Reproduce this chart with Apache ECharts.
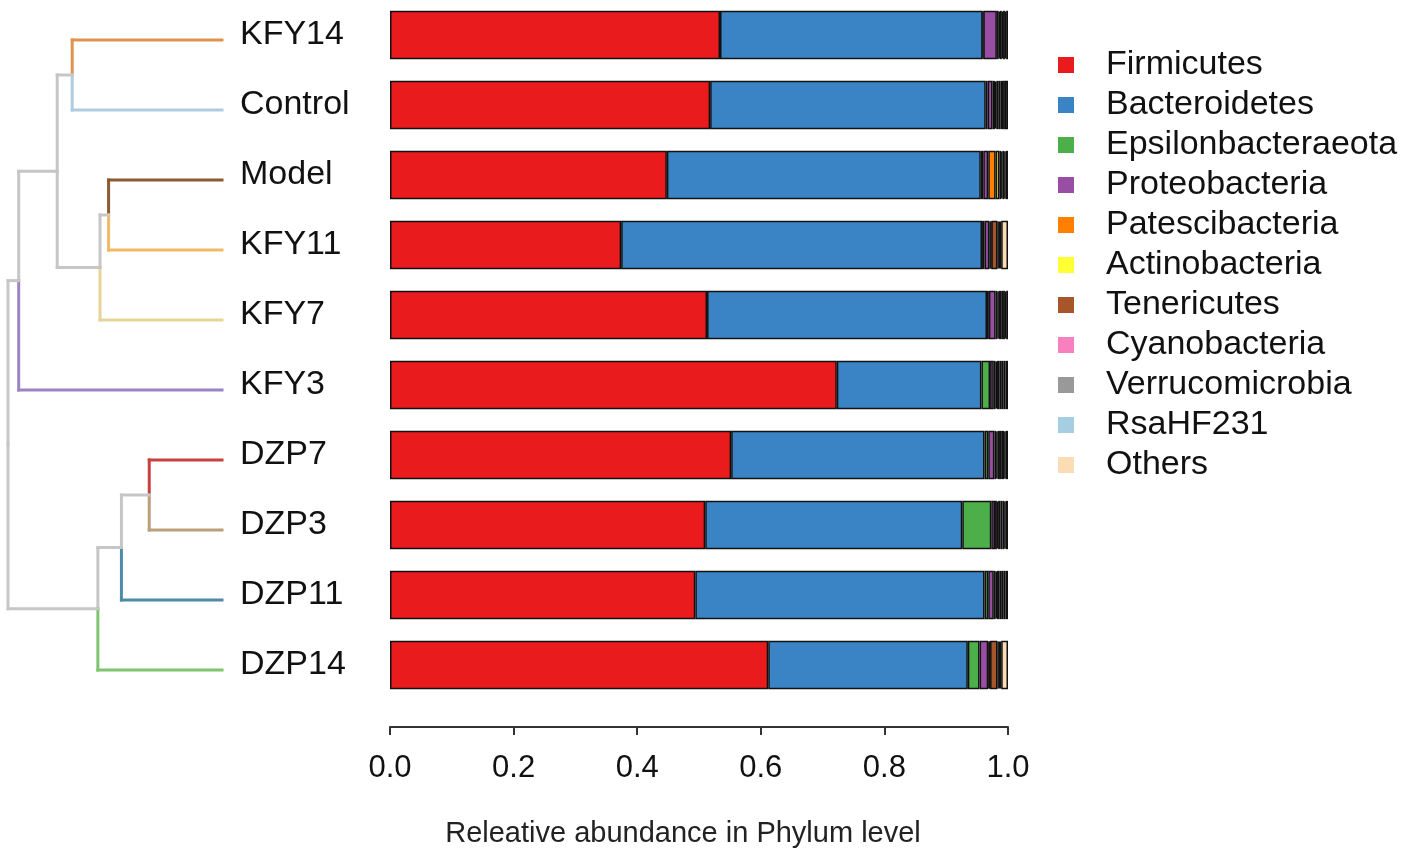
<!DOCTYPE html>
<html>
<head>
<meta charset="utf-8">
<script src="https://cdn.jsdelivr.net/npm/echarts@6/dist/echarts.min.js"></script>
<style>
  html, body { margin: 0; padding: 0; background: #fff; }
  #chart { width: 1418px; height: 859px; }
</style>
</head>
<body>
<div id="chart"></div>
<script>
// samples, top to bottom
const samples = ['KFY14', 'Control', 'Model', 'KFY11', 'KFY7', 'KFY3', 'DZP7', 'DZP3', 'DZP11', 'DZP14'];

const phyla = ['Firmicutes', 'Bacteroidetes', 'Epsilonbacteraeota', 'Proteobacteria', 'Patescibacteria',
  'Actinobacteria', 'Tenericutes', 'Cyanobacteria', 'Verrucomicrobia', 'RsaHF231', 'Others'];
const phylaColors = ['#ea1b1c', '#3a84c5', '#4daf4a', '#984ea3', '#ff7f00',
  '#ffff33', '#a65628', '#f781bf', '#999999', '#a6cee3', '#fbdcb4'];

// relative abundance per phylum, same order as samples
const firmicutes      = [0.534, 0.518, 0.448, 0.374, 0.513, 0.723, 0.552, 0.510, 0.494, 0.612];
const bacteroidetes   = [0.425, 0.446, 0.508, 0.584, 0.453, 0.234, 0.410, 0.416, 0.468, 0.323];
const epsilon         = [0.001, 0.003, 0.004, 0.004, 0.003, 0.014, 0.006, 0.047, 0.006, 0.019];
const proteobacteria  = [0.022, 0.008, 0.008, 0.008, 0.011, 0.006, 0.010, 0.006, 0.009, 0.014];
const patescibacteria = [0.003, 0.004, 0.012, 0.002, 0.003, 0.003, 0.003, 0.003, 0.003, 0.002];
const actinobacteria  = [0.002, 0.002, 0.006, 0.001, 0.002, 0.002, 0.002, 0.002, 0.002, 0.001];
const tenericutes     = [0.003, 0.004, 0.003, 0.010, 0.004, 0.004, 0.004, 0.004, 0.004, 0.012];
const cyanobacteria   = [0.002, 0.003, 0.002, 0.002, 0.003, 0.003, 0.003, 0.003, 0.003, 0.002];
const verrucomicrobia = [0.003, 0.004, 0.003, 0.002, 0.003, 0.004, 0.004, 0.003, 0.004, 0.002];
const rsaHF231        = [0.002, 0.003, 0.002, 0.002, 0.002, 0.003, 0.002, 0.002, 0.003, 0.002];
const others          = [0.003, 0.005, 0.004, 0.011, 0.003, 0.004, 0.004, 0.004, 0.004, 0.011];

const abundance = [firmicutes, bacteroidetes, epsilon, proteobacteria, patescibacteria,
  actinobacteria, tenericutes, cyanobacteria, verrucomicrobia, rsaHF231, others];

const xTicks = [0, 0.2, 0.4, 0.6, 0.8, 1.0];

// clustering tree: [childA, childB, height]; a number child points to an earlier merge
const merges = [
  ['KFY14', 'Control', 0.70],
  ['Model', 'KFY11', 0.53],
  [1, 'KFY7', 0.57],
  [0, 2, 0.77],
  [3, 'KFY3', 0.95],
  ['DZP7', 'DZP3', 0.34],
  [5, 'DZP11', 0.47],
  [6, 'DZP14', 0.58],
  [4, 7, 1.0]
];
const leafColors = ['#e0934f', '#b0cce0', '#8c5a32', '#f2b866', '#e6d596',
  '#9b84c4', '#c8403f', '#b9a07a', '#4f8aa6', '#7fc46f'];
const branchGray = '#c6c6c6';

// build segments of the dendrogram from the tree
const nodes = [];
function info(c) {
  if (typeof c === 'number') return nodes[c];
  const i = samples.indexOf(c);
  return { y: i, h: 0, color: leafColors[i] };
}
const segs = [];
merges.forEach(([a, b, h]) => {
  const A = info(a), B = info(b);
  const mid = (A.y + B.y) / 2;
  segs.push([h, A.y, h, mid, A.color]);
  segs.push([h, mid, h, B.y, B.color]);
  segs.push([h, A.y, A.h, A.y, A.color]);
  segs.push([h, B.y, B.h, B.y, B.color]);
  nodes.push({ y: mid, h, color: branchGray });
});

const font = 'Liberation Sans, Arial, sans-serif';

const barSeries = phyla.map((name, k) => ({
  name,
  type: 'bar',
  stack: 'total',
  xAxisIndex: 0,
  yAxisIndex: 0,
  barCategoryGap: '31%',
  data: abundance[k],
  itemStyle: { color: phylaColors[k], borderColor: '#111', borderWidth: 1.5 }
}));

const chart = echarts.init(document.getElementById('chart'));
chart.setOption({
  backgroundColor: '#fff',
  animation: false,
  legend: {
    orient: 'vertical',
    left: 1053,
    top: 40,
    icon: 'rect',
    itemWidth: 16,
    itemHeight: 16,
    itemGap: 0,
    data: phyla,
    itemStyle: { borderWidth: 0 },
    textStyle: { fontFamily: font, fontSize: 34, color: '#111', lineHeight: 40, padding: [0, 0, 0, 27] }
  },
  grid: [
    { left: 390, width: 618, top: 0, height: 700 },
    { left: 8, width: 214, top: 5, height: 700 }
  ],
  xAxis: [
    {
      gridIndex: 0, type: 'value', min: 0, max: 1, interval: 0.2, offset: 27,
      splitLine: { show: false },
      axisLine: { show: true, lineStyle: { color: '#333', width: 2 } },
      axisTick: { show: true, length: 8, lineStyle: { color: '#333', width: 2 } },
      axisLabel: {
        margin: 26, fontFamily: font, fontSize: 31, color: '#111',
        formatter: v => xTicks.includes(v) ? v.toFixed(1) : ''
      },
      name: 'Releative abundance in Phylum level',
      nameLocation: 'middle',
      nameGap: 92,
      nameTextStyle: { fontFamily: font, fontSize: 29, color: '#222', padding: [0, 32, 0, 0] }
    },
    { gridIndex: 1, type: 'value', min: 0, max: 1, inverse: true, show: false }
  ],
  yAxis: [
    {
      gridIndex: 0, type: 'category', data: samples, inverse: true,
      axisLine: { show: false }, axisTick: { show: false },
      axisLabel: { align: 'left', margin: 150, fontFamily: font, fontSize: 34, color: '#111', padding: [6, 0, 0, 0] }
    },
    { gridIndex: 1, type: 'value', min: -0.5, max: 9.5, inverse: true, show: false }
  ],
  series: barSeries.concat([{
    type: 'custom',
    xAxisIndex: 1,
    yAxisIndex: 1,
    silent: true,
    data: segs.map(s => [s[0], s[1], s[2], s[3]]),
    encode: { x: [0, 2], y: [1, 3] },
    renderItem: (params, api) => {
      const p1 = api.coord([api.value(0), api.value(1)]);
      const p2 = api.coord([api.value(2), api.value(3)]);
      return {
        type: 'line',
        shape: { x1: p1[0], y1: p1[1], x2: p2[0], y2: p2[1] },
        style: { stroke: segs[params.dataIndex][4], lineWidth: 3, lineCap: 'square' }
      };
    }
  }])
});
</script>
</body>
</html>
